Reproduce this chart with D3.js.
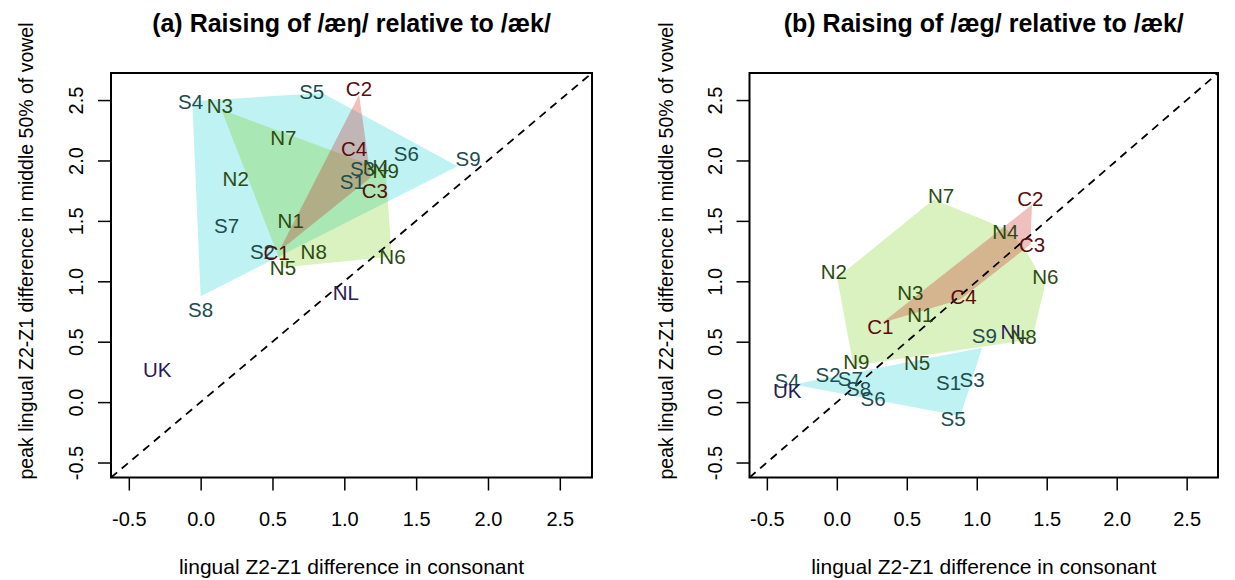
<!DOCTYPE html>
<html>
<head>
<meta charset="utf-8">
<script src="https://cdn.jsdelivr.net/npm/d3@7"></script>
<style>
  html, body { margin: 0; padding: 0; background: #fff; }
  svg { display: block; font-family: "Liberation Sans", Arial, Helvetica, sans-serif; }
</style>
</head>
<body>
<svg id="chart" width="1235" height="580"></svg>
<script>
// ---------------- DATA ----------------
const xTicks = [-0.5, 0.0, 0.5, 1.0, 1.5, 2.0, 2.5];
const yTicks = [-0.5, 0.0, 0.5, 1.0, 1.5, 2.0, 2.5];
const axisLimits = [-0.5, 2.6];
const titles = ["(a) Raising of /æŋ/ relative to /æk/", "(b) Raising of /æg/ relative to /æk/"];
const xLabel = "lingual Z2-Z1 difference in consonant";
const yLabel = "peak lingual Z2-Z1 difference in middle 50% of vowel";

// Panel (a): /æŋ/ vs /æk/
const speakersA = ["S4","N3","S5","C2","N7","C4","S6","S9","S3","N4","N9","S1","C3","N2","S7","N1","S2","C1","N5","N8","N6","S8","NL","UK"];
const consA     = [-0.07,0.134,0.773,1.102,0.575,1.068,1.432,1.862,1.126,1.219,1.288,1.056,1.212,0.244,0.181,0.627,0.43,0.528,0.573,0.787,1.335,0.0,1.01,-0.302];
const vowelA    = [2.49,2.454,2.572,2.592,2.187,2.096,2.057,2.016,1.931,1.947,1.919,1.828,1.751,1.848,1.464,1.503,1.245,1.238,1.112,1.245,1.208,0.767,0.91,0.27];
const hullA_S = [[-0.058,2.49],[0.847,2.559],[1.788,1.952],[0.0,0.877]];
const hullA_N = [[0.144,2.421],[1.288,1.917],[1.33,1.205],[0.571,1.114]];
const hullA_C = [[1.103,2.544],[1.184,1.859],[0.545,1.249]];

// Panel (b): /æg/ vs /æk/
const speakersB = ["N7","C2","N4","C3","N2","N6","N3","C4","N1","C1","S9","NL","N8","N9","N5","S2","S7","S8","S6","S4","UK","S1","S3","S5"];
const consB     = [0.745,1.383,1.204,1.395,-0.022,1.49,0.526,0.906,0.597,0.311,1.054,1.264,1.335,0.14,0.574,-0.062,0.097,0.156,0.259,-0.355,-0.355,0.799,0.966,0.831];
const vowelB    = [1.71,1.682,1.414,1.304,1.084,1.037,0.905,0.877,0.725,0.624,0.554,0.582,0.546,0.339,0.326,0.229,0.193,0.111,0.031,0.174,0.091,0.165,0.188,-0.137];
const hullB_S = [[-0.308,0.146],[1.038,0.45],[0.883,-0.116]];
const hullB_N = [[0.692,1.676],[1.216,1.428],[1.333,1.288],[1.489,0.974],[1.395,0.519],[0.119,0.303],[0.002,1.029]];
const hullB_C = [[1.395,1.634],[1.383,1.304],[0.883,0.849],[0.324,0.657]];

// ---------------- STYLE ----------------
const fills = { S: "rgb(0,205,205)", N: "rgb(102,205,0)", C: "rgb(205,0,0)" };
const fillOpacity = 0.25;
const textColors = { S: "#1d4d4f", N: "#2d4a12", C: "#5a0c0c", O: "#2a1a55" };

const panels = [
  { left: 111, right: 592, top: 73, bottom: 477.5, title: titles[0],
    names: speakersA, xs: consA, ys: vowelA, hulls: [["S", hullA_S], ["N", hullA_N], ["C", hullA_C]],
    yTitleX: 33 },
  { left: 749.5, right: 1218, top: 73, bottom: 477.5, title: titles[1],
    names: speakersB, xs: consB, ys: vowelB, hulls: [["S", hullB_S], ["N", hullB_N], ["C", hullB_C]],
    yTitleX: 673 }
];

const svg = d3.select("#chart");
svg.append("rect").attr("width", 1235).attr("height", 580).attr("fill", "#fff");

const ext = (axisLimits[1] - axisLimits[0]) * 0.04;
const domain = [axisLimits[0] - ext, axisLimits[1] + ext];
const fmt = d => d.toFixed(1);

panels.forEach((p, i) => {
  const x = d3.scaleLinear().domain(domain).range([p.left, p.right]);
  const y = d3.scaleLinear().domain(domain).range([p.bottom, p.top]);
  const g = svg.append("g");
  const clipId = "clip" + i;
  svg.append("clipPath").attr("id", clipId).append("rect")
    .attr("x", p.left).attr("y", p.top).attr("width", p.right - p.left).attr("height", p.bottom - p.top);

  const plot = g.append("g").attr("clip-path", `url(#${clipId})`);

  // hull polygons
  p.hulls.forEach(([grp, pts]) => {
    plot.append("path")
      .attr("d", d3.line().x(d => x(d[0])).y(d => y(d[1]))(pts) + "Z")
      .attr("fill", fills[grp]).attr("fill-opacity", fillOpacity).attr("stroke", "none");
  });

  // y = x reference line
  plot.append("line")
    .attr("x1", x(domain[0])).attr("y1", y(domain[0]))
    .attr("x2", x(domain[1])).attr("y2", y(domain[1]))
    .attr("stroke", "#000").attr("stroke-width", 1.8).attr("stroke-dasharray", "8,6");

  // labels
  p.names.forEach((n, k) => {
    const grp = /^[SNC]\d$/.test(n) ? n[0] : "O";
    plot.append("text")
      .attr("x", x(p.xs[k])).attr("y", y(p.ys[k]))
      .attr("dy", "0.36em").attr("text-anchor", "middle")
      .attr("font-size", 20.5).attr("fill", textColors[grp])
      .text(n);
  });

  // box
  g.append("rect").attr("x", p.left).attr("y", p.top)
    .attr("width", p.right - p.left).attr("height", p.bottom - p.top)
    .attr("fill", "none").attr("stroke", "#000").attr("stroke-width", 2);

  // x axis
  const xa = g.append("g").attr("transform", `translate(0,${p.bottom})`)
    .call(d3.axisBottom(x).tickValues(xTicks).tickFormat(fmt).tickSize(13));
  xa.select(".domain").remove();
  xa.attr("font-family", null);
  xa.selectAll(".tick line").attr("stroke", "#000").attr("stroke-width", 1.5);
  xa.selectAll(".tick text").attr("y", 48.5).attr("dy", 0)
    .attr("font-size", 20).attr("fill", "#000");

  // y axis
  const ya = g.append("g").attr("transform", `translate(${p.left},0)`)
    .call(d3.axisLeft(y).tickValues(yTicks).tickFormat(fmt).tickSize(13));
  ya.select(".domain").remove();
  ya.attr("font-family", null);
  ya.selectAll(".tick line").attr("stroke", "#000").attr("stroke-width", 1.5);
  ya.selectAll(".tick text")
    .attr("x", null).attr("dy", 0).attr("text-anchor", "middle")
    .attr("transform", "translate(-28,0) rotate(-90)")
    .attr("font-size", 20).attr("fill", "#000");

  // titles
  svg.append("text").attr("x", (p.left + p.right) / 2).attr("y", 32)
    .attr("text-anchor", "middle").attr("font-size", 25).attr("font-weight", "bold")
    .text(p.title);
  svg.append("text").attr("x", (p.left + p.right) / 2).attr("y", 574)
    .attr("text-anchor", "middle").attr("font-size", 21).text(xLabel);
  svg.append("text")
    .attr("transform", `translate(${p.yTitleX},251) rotate(-90)`)
    .attr("text-anchor", "middle").attr("font-size", 19.5).text(yLabel);
});
</script>
</body>
</html>
